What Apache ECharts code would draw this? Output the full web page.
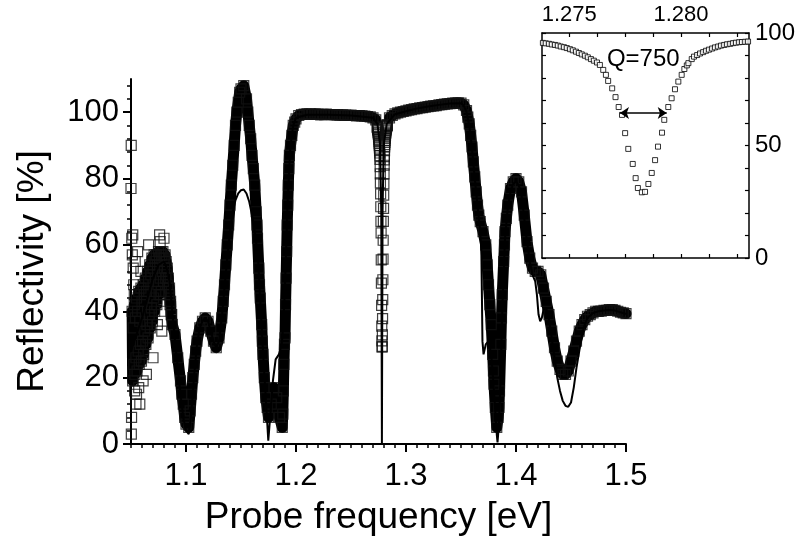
<!DOCTYPE html>
<html>
<head>
<meta charset="utf-8">
<title>Reflectivity</title>
<script src="https://cdn.jsdelivr.net/npm/echarts@6/dist/echarts.min.js"></script>
<style>
  html, body { margin: 0; padding: 0; background: #fff; }
  #chart { width: 798px; height: 541px; }
</style>
</head>
<body>
<div id="chart"></div>
<script>
// measured reflectivity [%] vs probe frequency [eV]
// noisy low-frequency part: dense core of the scatter
var measuredNoisy = [
  [1.0510,40],[1.0515,19],[1.0520,35],[1.0525,24],[1.0530,42],[1.0535,21],[1.0540,38],[1.0545,26],
  [1.0550,44],[1.0555,22],[1.0560,40],[1.0565,28],[1.0570,46],[1.0575,24],[1.0580,37],[1.0585,30],
  [1.0590,47],[1.0595,25],[1.0600,43],[1.0605,31],[1.0610,48],[1.0615,27],[1.0620,45],[1.0625,34],
  [1.0630,50],[1.0635,30],[1.0640,46],[1.0645,36],[1.0650,52],[1.0655,32],[1.0660,49],[1.0665,39],
  [1.0670,54],[1.0675,35],[1.0680,51],[1.0685,41],[1.0690,56],[1.0695,37],[1.0700,53],[1.0705,44],
  [1.0710,57],[1.0715,40],[1.0720,55],[1.0725,46],[1.0730,57],[1.0735,42],[1.0740,54],[1.0745,48],
  [1.0750,58],[1.0755,45],[1.0760,56],[1.0765,50],[1.0770,58],[1.0775,46],[1.0780,57],[1.0785,52],
  [1.0790,58],[1.0795,49],[1.0800,56],[1.0805,53],[1.0810,57],[1.0815,50],[1.0820,55],[1.0825,51],
  [1.0830,53],[1.0835,48],[1.0840,50],[1.0845,45],[1.0850,47],[1.0855,42],[1.0860,43],[1.0865,39],
  [1.0870,39],[1.0875,36]
];
// stray squares around it
var measuredStray = [
  [1.0500,77],[1.0502,90],[1.0503,3],[1.0505,8],[1.0507,62],[1.0512,57],[1.0516,63],[1.0520,53],
  [1.0525,48],[1.0530,45],[1.0533,16],[1.0538,55],[1.0545,12],[1.0550,15],[1.0560,58],[1.0570,17],
  [1.0580,12],[1.0590,52],[1.0610,19],[1.0640,21],[1.0660,60],[1.0700,26],[1.0740,36],[1.0760,63],
  [1.0765,61],[1.0770,45],[1.0775,40],[1.0780,34],[1.0800,62]
];

// main sweep
var measured = [
  [1.0900,33],[1.0925,26],[1.0950,19],[1.0975,12],[1.1000,6],[1.1025,5],[1.1050,15],[1.1075,24],
  [1.1100,31],[1.1125,35],[1.1150,37],[1.1175,38],[1.1200,37],[1.1225,34],[1.1250,31],[1.1275,29],
  [1.1300,32],[1.1325,38],[1.1350,48],[1.1375,60],[1.1400,72],[1.1425,84],[1.1450,96],[1.1475,103],
  [1.1500,107],[1.1525,108],[1.1550,104],[1.1575,96],[1.1600,87],[1.1625,78],[1.1650,62],[1.1675,44],
  [1.1700,27],[1.1725,14],[1.1750,8],[1.1775,12],[1.1800,17],[1.1825,14],[1.1850,8],[1.1875,5],
  [1.1900,32],[1.1925,72],[1.1950,90],[1.1975,96],[1.2000,98],[1.2025,99],[1.2050,99.3],[1.2075,99.4],
  [1.2100,99.5],[1.2125,99.4],[1.2150,99.3],[1.2175,99.5],[1.2200,99.4],[1.2225,99.2],[1.2250,99.3],
  [1.2275,99.4],[1.2300,99.3],[1.2325,99.2],[1.2350,99.3],[1.2375,99.2],[1.2400,99.1],[1.2425,99.2],
  [1.2450,99.1],[1.2475,99.0],[1.2500,99.1],[1.2525,99.0],[1.2550,98.9],[1.2575,99.0],[1.2600,98.9],
  [1.2625,98.8],[1.2650,98.7],[1.2675,98.6],[1.2700,98.3],[1.2725,97.7],
  [1.2850,98.3],[1.2875,99.0],[1.2900,99.5],[1.2925,99.8],[1.2950,100.0],[1.2975,100.2],[1.3000,100.4],
  [1.3025,100.6],[1.3050,100.8],[1.3075,101.0],[1.3100,101.1],[1.3125,101.3],[1.3150,101.4],
  [1.3175,101.5],[1.3200,101.7],[1.3225,101.8],[1.3250,101.9],[1.3275,102.0],[1.3300,102.2],
  [1.3325,102.3],[1.3350,102.4],[1.3375,102.5],[1.3400,102.6],[1.3425,102.7],[1.3450,102.7],
  [1.3475,102.8],[1.3500,102.7],[1.3525,102.2],[1.3550,100.5],[1.3575,96.5],[1.3600,89.5],
  [1.3625,80.5],[1.3650,72],[1.3675,67],[1.3700,64],[1.3725,60],[1.3750,48],[1.3775,36],[1.3800,18],
  [1.3825,5],[1.3850,16],[1.3875,45],[1.3900,64],[1.3925,72],[1.3950,77],[1.3975,79],[1.4000,80],
  [1.4025,79],[1.4050,76],[1.4075,69],[1.4100,61],[1.4125,56],[1.4150,53],[1.4175,52],[1.4200,52],
  [1.4225,51],[1.4250,47],[1.4275,43],[1.4300,39],[1.4325,34],[1.4350,29],[1.4375,25],[1.4400,22.5],
  [1.4425,21],[1.4450,21],[1.4475,22],[1.4500,25],[1.4525,28],[1.4550,31],[1.4575,34],[1.4600,36],
  [1.4625,37.5],[1.4650,38.5],[1.4675,39],[1.4700,39.5],[1.4725,40],[1.4750,40],[1.4775,40],
  [1.4800,40.3],[1.4825,40.3],[1.4850,40.5],[1.4875,40.5],[1.4900,40.3],[1.4925,40],[1.4950,39.7],
  [1.4975,39.5],[1.5000,39.3]
];

// extra points where the sweep is steep
var measuredSteep = [
  [1.0962,15],[1.0988,8],[1.1038,10],[1.1062,20],[1.1088,28],
  [1.1338,43],[1.1362,54],[1.1388,66],[1.1412,78],[1.1438,90],[1.1462,100],[1.1488,106],
  [1.1562,100],[1.1588,92],[1.1612,83],[1.1638,70],[1.1645,66],[1.1662,53],[1.1668,48],
  [1.1688,36],[1.1694,31],[1.1712,20],[1.1738,11],
  [1.1880,9],[1.1885,16],[1.1890,24],[1.1895,30],[1.1905,42],[1.1910,50],[1.1915,58],[1.1920,66],
  [1.1930,78],[1.1935,83],[1.1940,87],[1.1962,93],[1.1988,97],
  [1.3562,98.5],[1.3588,93],[1.3612,85],[1.3638,76],[1.3662,69],[1.3738,54],[1.3762,42],
  [1.3788,27],[1.3795,22],[1.3812,11],[1.3838,8],[1.3845,11],[1.3862,30],[1.3868,38],
  [1.3888,55],[1.3895,60],[1.3912,68]
];

// zoom on the cavity mode (inset)
var insetFreq = [
  1.27382,1.27395,1.27409,1.27422,1.27436,1.27449,1.27462,1.27476,1.27489,1.27503,
  1.27516,1.27530,1.27543,1.27556,1.27570,1.27583,1.27597,1.27610,1.27624,1.27637,
  1.27652,1.27664,1.27674,1.27692,1.27707,1.27721,1.27736,1.27750,1.27764,1.27784,
  1.27797,1.27807,1.27825,1.27839,1.27854,1.27869,1.27884,1.27897,1.27915,1.27925,
  1.27943,1.27958,1.27973,1.27988,1.28003,1.28015,1.28026,1.28033,1.28048,1.28058,
  1.28072,1.28085,1.28099,1.28112,1.28125,1.28139,1.28152,1.28166,1.28179,1.28193,
  1.28206,1.28220,1.28233,1.28246,1.28260,1.28273,1.28287,1.28300
];
var insetRefl = [
  95.6,95.4,95.2,94.9,94.7,94.4,94.0,93.7,93.3,92.8,
  92.3,91.7,91.1,90.5,89.9,89.2,88.4,87.7,86.9,85.8,
  83.6,81.4,78.7,75.4,71.5,67.1,63.6,55.5,48.5,41.8,
  35.5,31.1,29.2,29.4,32.9,37.8,43.5,49.5,55.7,61.4,
  67.1,71.0,75.0,78.4,81.4,84.0,85.6,86.6,88.4,89.5,
  90.2,90.9,91.5,92.1,92.6,93.1,93.6,94.0,94.4,94.7,
  95.0,95.2,95.5,95.7,95.9,96.0,96.1,96.2
];

// calculated spectrum (solid line)
var fitCurve = [
  [1.05,28],[1.055,33],[1.06,38],[1.065,44],[1.07,50],[1.075,54],[1.08,55],[1.0825,53],[1.085,49],
  [1.0875,40],[1.09,31],[1.0925,23],[1.095,15],[1.0975,8],[1.1,4],[1.1025,3],[1.105,10],[1.1075,21],
  [1.11,30],[1.1125,35],[1.115,37],[1.1175,38],[1.12,37],[1.1225,34],[1.125,31],[1.1275,29],[1.13,31],
  [1.1325,38],[1.135,47],[1.1375,56],[1.14,64],[1.1425,70],[1.145,73.5],[1.1475,75.5],[1.15,76.5],
  [1.1525,76.7],[1.155,75.5],[1.1575,73],[1.16,69],[1.1625,64],[1.1655,56],[1.1675,43],[1.17,28],
  [1.1725,14],[1.1748,1],[1.1765,8],[1.179,19],[1.1815,25.5],[1.1845,27],[1.187,30],[1.1885,36],
  [1.19,48],[1.1925,74],[1.195,90],[1.1975,96],[1.2,98.3],[1.21,99.2],[1.23,99.2],[1.25,99],[1.27,98.3],
  [1.274,96.5],[1.2765,90],[1.2775,70],[1.2781,0],[1.2787,70],[1.2797,90],[1.2825,96.5],[1.29,99.4],
  [1.30,100.3],[1.31,101.1],[1.32,101.7],[1.33,102.2],[1.34,102.6],[1.35,102.7],[1.3525,102],
  [1.355,100],[1.3575,96],[1.36,89],[1.3625,80],[1.365,72],[1.3675,64],[1.3685,58],[1.369,45],
  [1.3695,31],[1.3705,27],[1.3715,27],[1.3725,30],[1.375,31],[1.3775,27],[1.38,16],[1.3825,3],
  [1.3832,0.5],[1.3845,6],[1.386,20],[1.3875,40],[1.39,62],[1.3925,71],[1.395,76],[1.3975,78.5],
  [1.40,79],[1.4025,78],[1.405,75],[1.4075,68],[1.41,61],[1.4125,55],[1.415,51],[1.4175,49],
  [1.419,45],[1.4205,39],[1.422,37],[1.4235,38],[1.425,40.5],[1.4275,41],[1.43,37.5],[1.4325,32],
  [1.435,26],[1.4375,20],[1.44,16],[1.4425,13],[1.445,11.5],[1.4475,11.2],[1.45,12.5],[1.4525,17],
  [1.455,23],[1.4575,28],[1.46,33],[1.4625,36],[1.465,38],[1.47,39.5],[1.475,40],[1.48,40.2],
  [1.485,40.4],[1.49,40.2],[1.495,39.7],[1.5,39.2]
];

// tick labels
var mainXLabels = [1.1, 1.2, 1.3, 1.4, 1.5];
var mainYLabels = [0, 20, 40, 60, 80, 100];
var insetXLabels = [1.275, 1.280];
var insetYLabels = [0, 50, 100];
var insetXTicks = [1.275, 1.27625, 1.2775, 1.27875, 1.28, 1.28125, 1.2825];

var minorX = [];
for (var i = 105; i <= 150; i++) { if (i % 10 !== 0) minorX.push(i / 100); }
var minorY = [];
for (var j = 4; j <= 108; j += 4) { if (j % 20 !== 0) minorY.push(j); }
var insetYTicks = [];
for (var k = 0; k <= 100; k += 10) insetYTicks.push(k);

var insetPts = insetFreq.map(function (f, n) { return [f, insetRefl[n]]; });
var allMeasured = measuredStray.concat(measuredNoisy, measured, measuredSteep, insetPts);

// the squares overlap so densely that the sweep reads as a solid black band:
// draw the same readings as a thick stroke under the squares (gap at the narrow mode)
var bandPts = measuredNoisy.concat(measured, measuredSteep)
  .sort(function (a, b) { return a[0] - b[0]; });
var cut = bandPts.findIndex(function (p) { return p[0] > 1.278; });
bandPts.splice(cut, 0, [1.278, null]);

var fam = 'Liberation Sans, Arial, sans-serif';

var chart = echarts.init(document.getElementById('chart'));
chart.setOption({
  animation: false,
  backgroundColor: '#fff',
  grid: [
    { left: 131, right: 172, top: 79, bottom: 95 },
    { left: 542, top: 33, width: 207, height: 225, show: true, backgroundColor: '#fff', borderWidth: 0 }
  ],
  xAxis: [
    {
      gridIndex: 0, type: 'value', min: 1.05, max: 1.5, position: 'bottom',
      axisLine: { onZero: false, lineStyle: { color: '#000', width: 2 } },
      axisTick: { customValues: mainXLabels, length: 8, lineStyle: { color: '#000', width: 2 } },
      axisLabel: {
        customValues: mainXLabels, color: '#000', fontSize: 31, fontFamily: fam, margin: 17,
        formatter: function (v) { return v.toFixed(1); }
      },
      splitLine: { show: false },
      name: 'Probe frequency [eV]', nameLocation: 'middle', nameGap: 55,
      nameTextStyle: { color: '#000', fontSize: 37, fontFamily: fam }
    },
    {
      gridIndex: 0, type: 'value', min: 1.05, max: 1.5, position: 'bottom',
      axisLine: { show: false, onZero: false },
      axisTick: { customValues: minorX, length: 4, lineStyle: { color: '#000', width: 1.5 } },
      axisLabel: { show: false }, splitLine: { show: false }
    },
    {
      gridIndex: 1, type: 'value', min: 1.27378, max: 1.28304, position: 'bottom',
      axisLine: { onZero: false, lineStyle: { color: '#000', width: 1.5 } },
      axisTick: { customValues: insetXTicks, inside: true, length: 4, lineStyle: { color: '#000', width: 1.2 } },
      axisLabel: { show: false }, splitLine: { show: false }
    },
    {
      gridIndex: 1, type: 'value', min: 1.27378, max: 1.28304, position: 'top',
      axisLine: { onZero: false, lineStyle: { color: '#000', width: 1.5 } },
      axisTick: { customValues: insetXTicks, inside: true, length: 4, lineStyle: { color: '#000', width: 1.2 } },
      axisLabel: {
        customValues: insetXLabels, color: '#000', fontSize: 22, fontFamily: fam, margin: 7,
        formatter: function (v) { return v.toFixed(3); }
      },
      splitLine: { show: false }
    }
  ],
  yAxis: [
    {
      gridIndex: 0, type: 'value', min: 0, max: 110, position: 'left',
      axisLine: { onZero: false, lineStyle: { color: '#000', width: 2 } },
      axisTick: { customValues: mainYLabels, length: 8, lineStyle: { color: '#000', width: 2 } },
      axisLabel: { customValues: mainYLabels, color: '#000', fontSize: 31, fontFamily: fam, margin: 12 },
      splitLine: { show: false },
      name: 'Reflectivity [%]', nameLocation: 'middle', nameGap: 80,
      nameTextStyle: { color: '#000', fontSize: 37, fontFamily: fam, padding: [0, 20, 0, 0] }
    },
    {
      gridIndex: 0, type: 'value', min: 0, max: 110, position: 'left',
      axisLine: { show: false, onZero: false },
      axisTick: { customValues: minorY, length: 4, lineStyle: { color: '#000', width: 1.5 } },
      axisLabel: { show: false }, splitLine: { show: false }
    },
    {
      gridIndex: 1, type: 'value', min: 0, max: 100, position: 'left',
      axisLine: { onZero: false, lineStyle: { color: '#000', width: 1.5 } },
      axisTick: { customValues: insetYTicks, inside: true, length: 4, lineStyle: { color: '#000', width: 1.2 } },
      axisLabel: { show: false }, splitLine: { show: false }
    },
    {
      gridIndex: 1, type: 'value', min: 0, max: 100, position: 'right',
      axisLine: { onZero: false, lineStyle: { color: '#000', width: 1.5 } },
      axisTick: { customValues: insetYTicks, inside: true, length: 4, lineStyle: { color: '#000', width: 1.2 } },
      axisLabel: { customValues: insetYLabels, color: '#000', fontSize: 24, fontFamily: fam, margin: 6 },
      splitLine: { show: false }
    }
  ],
  series: [
    {
      name: 'band', type: 'line', xAxisIndex: 0, yAxisIndex: 0,
      data: bandPts, showSymbol: false, symbol: 'none', silent: true, z: 1, connectNulls: false,
      lineStyle: { color: '#000', width: 11, join: 'round', cap: 'round' }
    },
    {
      name: 'measured', type: 'scatter', xAxisIndex: 0, yAxisIndex: 0,
      data: allMeasured, symbol: 'rect', symbolSize: 10, clip: false, silent: true, z: 2,
      itemStyle: { color: 'rgba(0,0,0,0)', borderColor: '#111', borderWidth: 1.2 }
    },
    {
      name: 'calculated', type: 'line', xAxisIndex: 0, yAxisIndex: 0,
      data: fitCurve, showSymbol: false, symbol: 'none', silent: true, z: 3,
      lineStyle: { color: '#000', width: 2 }
    },
    {
      name: 'inset', type: 'scatter', xAxisIndex: 2, yAxisIndex: 2,
      data: insetPts, symbol: 'rect', symbolSize: 5, silent: true, z: 5,
      itemStyle: { color: '#fff', borderColor: '#000', borderWidth: 1 },
      markLine: {
        silent: true, symbol: ['arrow', 'arrow'], symbolSize: 9, z: 6,
        label: { show: false },
        lineStyle: { color: '#000', width: 1.5, type: 'solid' },
        data: [[{ coord: [1.27727, 64.4] }, { coord: [1.27936, 64.4] }]]
      }
    },
    {
      name: 'Q', type: 'scatter', xAxisIndex: 2, yAxisIndex: 2,
      data: [[1.27831, 88.1]], symbolSize: 0, silent: true, z: 7,
      itemStyle: { color: '#000', opacity: 1 },
      label: {
        show: true, position: 'inside', formatter: 'Q=750', color: '#000', opacity: 1,
        fontSize: 24, fontFamily: fam, textBorderWidth: 0, textBorderColor: 'transparent'
      }
    }
  ]
});
</script>
</body>
</html>
